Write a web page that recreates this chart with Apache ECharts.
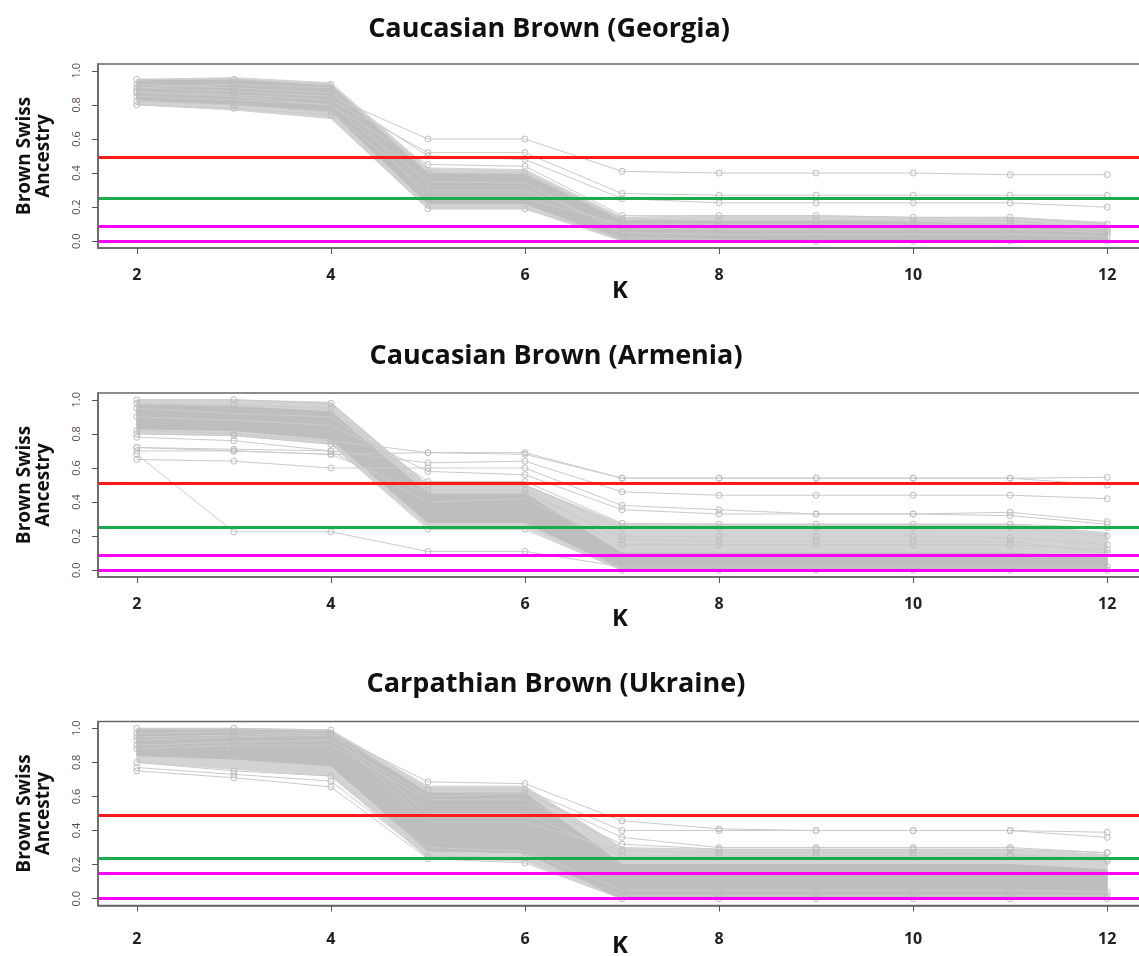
<!DOCTYPE html>
<html><head><meta charset="utf-8">
<script src="https://cdn.jsdelivr.net/npm/echarts@6/dist/echarts.min.js"></script>
<style>html,body{margin:0;padding:0;background:#fff}#c{width:1139px;height:956px}</style>
</head><body><div id="c"></div>
<script>
// ---------------- data ----------------
const K = [2, 3, 4, 5, 6, 7, 8, 9, 10, 11, 12];
const xTicks = [2, 4, 6, 8, 10, 12];
const yTicks = [0, 0.2, 0.4, 0.6, 0.8, 1.0];
const titles = ['Caucasian Brown (Georgia)', 'Caucasian Brown (Armenia)', 'Carpathian Brown (Ukraine)'];
const xName = 'K';
const yName = 'Brown Swiss\nAncestry';
const thresholdColors = ['#ff1a1a', '#1aab4a', '#ff00ff', '#ff00ff'];

// Georgia
const georgiaOuterHi = [0.95, 0.96, 0.93, 0.43, 0.42, 0.14, 0.15, 0.15, 0.14, 0.14, 0.11];
const georgiaOuterLo = [0.80, 0.77, 0.72, 0.19, 0.19, 0.00, 0.00, 0.00, 0.00, 0.00, 0.00];
const georgiaCoreHi  = [0.94, 0.95, 0.91, 0.40, 0.39, 0.12, 0.12, 0.12, 0.11, 0.10, 0.08];
const georgiaCoreLo  = [0.83, 0.80, 0.76, 0.22, 0.22, 0.01, 0.01, 0.01, 0.01, 0.01, 0.01];
const georgiaLines = [
  [0.90, 0.88, 0.85, 0.60, 0.60, 0.41, 0.40, 0.40, 0.40, 0.39, 0.39],
  [0.88, 0.86, 0.83, 0.52, 0.52, 0.28, 0.27, 0.27, 0.27, 0.27, 0.27],
  [0.92, 0.90, 0.87, 0.50, 0.48, 0.25, 0.225, 0.225, 0.225, 0.225, 0.20],
  [0.85, 0.83, 0.80, 0.45, 0.44, 0.15, 0.15, 0.15, 0.14, 0.14, 0.10],
  [0.80, 0.78, 0.74, 0.19, 0.19, 0.02, 0.01, 0.00, 0.00, 0.00, 0.00],
  [0.95, 0.95, 0.92, 0.40, 0.40, 0.13, 0.12, 0.12, 0.12, 0.12, 0.07],
  [0.82, 0.80, 0.76, 0.30, 0.30, 0.08, 0.07, 0.07, 0.07, 0.07, 0.05],
  [0.87, 0.85, 0.80, 0.35, 0.34, 0.05, 0.04, 0.04, 0.04, 0.04, 0.03],
  [0.90, 0.92, 0.90, 0.25, 0.25, 0.10, 0.10, 0.10, 0.10, 0.10, 0.06]
];
const georgiaThresholds = [0.49, 0.25, 0.092, -0.002];

// Armenia
const armeniaOuterHi = [1.00, 1.00, 0.985, 0.50, 0.50, 0.27, 0.27, 0.27, 0.27, 0.27, 0.22];
const armeniaOuterLo = [0.80, 0.79, 0.74, 0.25, 0.25, 0.00, 0.00, 0.00, 0.00, 0.00, 0.00];
const armeniaCoreHi  = [0.97, 0.96, 0.93, 0.45, 0.45, 0.10, 0.10, 0.10, 0.10, 0.10, 0.08];
const armeniaCoreLo  = [0.83, 0.82, 0.77, 0.28, 0.28, 0.01, 0.01, 0.01, 0.01, 0.01, 0.01];
const armeniaLines = [
  [0.72, 0.70, 0.68, 0.69, 0.69, 0.54, 0.54, 0.54, 0.54, 0.54, 0.545],
  [0.82, 0.80, 0.76, 0.69, 0.68, 0.54, 0.54, 0.54, 0.54, 0.54, 0.50],
  [0.78, 0.76, 0.70, 0.63, 0.64, 0.46, 0.44, 0.44, 0.44, 0.44, 0.42],
  [0.65, 0.64, 0.60, 0.60, 0.60, 0.38, 0.355, 0.33, 0.33, 0.34, 0.285],
  [0.90, 0.88, 0.85, 0.58, 0.56, 0.355, 0.33, 0.33, 0.33, 0.32, 0.27],
  [0.95, 0.92, 0.90, 0.52, 0.52, 0.275, 0.27, 0.27, 0.27, 0.27, 0.25],
  [0.68, 0.225, 0.225, 0.11, 0.11, 0.02, 0.02, 0.02, 0.02, 0.02, 0.02],
  [1.00, 1.00, 0.98, 0.50, 0.50, 0.25, 0.25, 0.25, 0.25, 0.25, 0.20],
  [0.80, 0.79, 0.74, 0.24, 0.24, 0.00, 0.00, 0.00, 0.00, 0.00, 0.00],
  [0.70, 0.70, 0.68, 0.45, 0.45, 0.20, 0.20, 0.20, 0.20, 0.19, 0.15],
  [0.72, 0.71, 0.70, 0.40, 0.42, 0.15, 0.15, 0.15, 0.15, 0.15, 0.12],
  [0.98, 0.97, 0.95, 0.47, 0.47, 0.18, 0.17, 0.17, 0.17, 0.17, 0.10]
];
const armeniaThresholds = [0.514, 0.251, 0.094, 0.0];

// Ukraine
const ukraineOuterHi = [1.00, 1.00, 0.99, 0.66, 0.66, 0.30, 0.29, 0.29, 0.29, 0.29, 0.26];
const ukraineOuterLo = [0.80, 0.76, 0.72, 0.24, 0.22, 0.00, 0.00, 0.00, 0.00, 0.00, 0.00];
const ukraineCoreHi  = [0.99, 0.99, 0.98, 0.62, 0.62, 0.20, 0.20, 0.20, 0.20, 0.20, 0.17];
const ukraineCoreLo  = [0.84, 0.82, 0.78, 0.28, 0.27, 0.00, 0.00, 0.00, 0.00, 0.00, 0.00];
const ukraineLines = [
  [0.95, 0.96, 0.97, 0.686, 0.675, 0.457, 0.41, 0.40, 0.40, 0.40, 0.39],
  [0.93, 0.95, 0.96, 0.64, 0.64, 0.40, 0.40, 0.40, 0.40, 0.40, 0.36],
  [0.90, 0.92, 0.93, 0.60, 0.62, 0.36, 0.30, 0.30, 0.30, 0.30, 0.27],
  [0.88, 0.90, 0.90, 0.58, 0.58, 0.32, 0.29, 0.29, 0.29, 0.29, 0.27],
  [0.80, 0.75, 0.72, 0.30, 0.28, 0.05, 0.05, 0.05, 0.05, 0.05, 0.04],
  [0.77, 0.73, 0.69, 0.25, 0.24, 0.02, 0.02, 0.02, 0.02, 0.02, 0.02],
  [0.75, 0.71, 0.656, 0.235, 0.21, 0.00, 0.00, 0.00, 0.00, 0.00, 0.00],
  [1.00, 1.00, 0.99, 0.50, 0.50, 0.25, 0.25, 0.25, 0.25, 0.25, 0.22],
  [0.97, 0.98, 0.97, 0.45, 0.45, 0.28, 0.27, 0.27, 0.27, 0.26, 0.23]
];
const ukraineThresholds = [0.49, 0.245, 0.147, -0.004];

// ---------------- chart ----------------
const panels = [
  {outerHi: georgiaOuterHi, outerLo: georgiaOuterLo, coreHi: georgiaCoreHi, coreLo: georgiaCoreLo, lines: georgiaLines, thr: georgiaThresholds},
  {outerHi: armeniaOuterHi, outerLo: armeniaOuterLo, coreHi: armeniaCoreHi, coreLo: armeniaCoreLo, lines: armeniaLines, thr: armeniaThresholds},
  {outerHi: ukraineOuterHi, outerLo: ukraineOuterLo, coreHi: ukraineCoreHi, coreLo: ukraineCoreLo, lines: ukraineLines, thr: ukraineThresholds}
];
const gridTops = [64, 393, 721.5];
const titleCenters = [[549, 28], [556, 355], [556, 683]];
const kCenters = [[620, 290], [620, 618], [620, 945]];
const labelMargins = [19, 19, 26];
const FONT = '"Open Sans", "DejaVu Sans", sans-serif';
const LIGHT = '#d3d3d3', DARK = '#bebebe';

const pairs = arr => K.map((k, i) => [k, arr[i]]);

function bandSeries(gi, hi, lo, color, z) {
  return {
    type: 'custom', xAxisIndex: gi, yAxisIndex: gi, silent: true, animation: false, z: z,
    data: [[K[0], lo[0]]],
    renderItem: (params, api) => {
      const top = K.map((k, i) => api.coord([k, hi[i]]));
      const bot = K.map((k, i) => api.coord([k, lo[i]])).reverse();
      return {type: 'polygon', shape: {points: top.concat(bot)},
        style: {fill: color, stroke: color, lineWidth: 1}};
    }
  };
}

const grid = [], xAxis = [], yAxis = [], series = [], title = [];
panels.forEach((p, gi) => {
  grid.push({left: 98, top: gridTops[gi], width: 1048, height: 184, show: true, outerBoundsMode: 'none',
    containLabel: false, borderColor: '#666', borderWidth: 1.5, backgroundColor: 'transparent'});
  title.push({text: titles[gi], left: titleCenters[gi][0], top: titleCenters[gi][1] - 12, textAlign: 'center', padding: 0,
    textStyle: {fontFamily: FONT, fontWeight: 'bold', fontSize: 27, color: '#111'}});
  title.push({text: xName, left: kCenters[gi][0], top: kCenters[gi][1] - 11, textAlign: 'center', padding: 0,
    textStyle: {fontFamily: FONT, fontWeight: 'bold', fontSize: 24, color: '#111'}});
  xAxis.push({type: 'value', gridIndex: gi, min: 1.6, max: 12.4, z: 10,
    axisLine: {show: true, onZero: false, lineStyle: {color: '#666', width: 1.5}},
    axisTick: {show: true, length: 6, lineStyle: {color: '#555'}, customValues: xTicks},
    axisLabel: {customValues: xTicks, margin: labelMargins[gi], fontFamily: FONT, fontWeight: 'bold', fontSize: 16, color: '#222'},
    splitLine: {show: false}});
  yAxis.push({type: 'value', gridIndex: gi, min: -0.04, max: 1.04, z: 10,
    name: yName, nameLocation: 'middle', nameRotate: 90, nameGap: 45,
    nameTextStyle: {fontFamily: FONT, fontWeight: 'bold', fontSize: 19, color: '#111', lineHeight: 19},
    axisLine: {show: true, lineStyle: {color: '#666', width: 1.5}},
    axisTick: {show: true, length: 6, lineStyle: {color: '#555'}, customValues: yTicks},
    axisLabel: {customValues: yTicks, rotate: 90, margin: 16, fontFamily: FONT, fontSize: 11, color: '#5a4a40',
      formatter: v => v.toFixed(1)},
    splitLine: {show: false}});

  series.push(bandSeries(gi, p.outerHi, p.outerLo, LIGHT, 1));
  series.push(bandSeries(gi, p.coreHi, p.coreLo, DARK, 2));

  const base = {type: 'line', xAxisIndex: gi, yAxisIndex: gi, silent: true, animation: false};
  p.lines.forEach(l => {
    series.push(Object.assign({}, base, {data: pairs(l), symbol: 'circle', symbolSize: 6, showAllSymbol: true,
      lineStyle: {width: 1, color: '#cbcbcb'},
      itemStyle: {color: 'rgba(0,0,0,0)', borderColor: '#bdbdbd', borderWidth: 1}, z: 3}));
  });
  series.push(Object.assign({}, base, {data: [], z: 5,
    markLine: {silent: true, symbol: ['none', 'none'], label: {show: false}, animation: false,
      data: p.thr.map((v, i) => ({yAxis: v, lineStyle: {color: thresholdColors[i], width: 3, type: 'solid'}}))}}));
});

const chart = echarts.init(document.getElementById('c'), null, {renderer: 'canvas'});
chart.setOption({animation: false, backgroundColor: '#fff', title, grid, xAxis, yAxis, series});
</script>
</body></html>
